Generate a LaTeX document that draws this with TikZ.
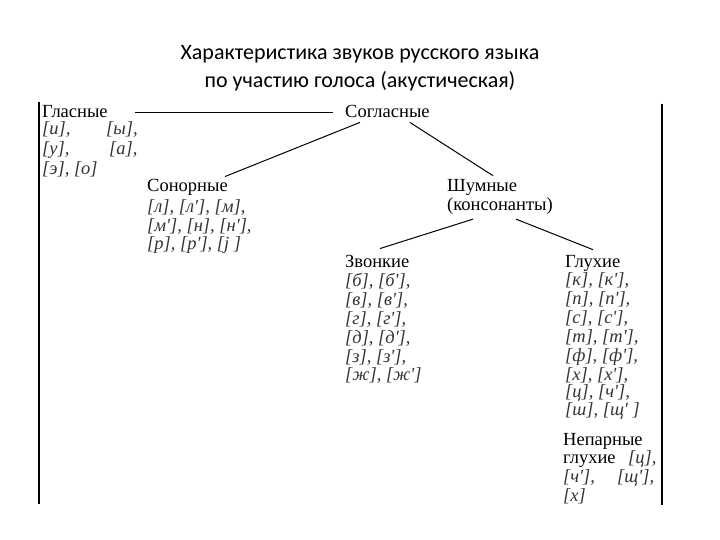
\documentclass[tikz,border=0pt]{standalone}
\usepackage{fontspec}
\setmainfont{Liberation Serif}
\newfontfamily\titlefont{Carlito}
\newcommand\ap{\textquotesingle}
\begin{document}
\begin{tikzpicture}[x=1pt,y=-1pt,
  hd/.style={inner sep=0pt,anchor=base west,font=\fontsize{18.5}{20}\selectfont},
  it/.style={inner sep=0pt,anchor=base west,font=\fontsize{18.5}{20}\selectfont\itshape,text=black!80},
  ttl/.style={inner sep=0pt,anchor=base,font=\titlefont\fontsize{22}{26}\selectfont},
  conn/.style={draw=black,line width=1pt},
  frame/.style={draw=black,line width=1.3pt}]
\useasboundingbox (0,0) rectangle (720,540);
% title
\node[ttl] (t1) at (360,60) {Характеристика звуков русского языка};
\node[ttl] (t2) at (360,88) {по участию голоса (акустическая)};
% frame lines
\coordinate (fl1) at (39,102); \coordinate (fl2) at (39,504);
\coordinate (fr1) at (662,104); \coordinate (fr2) at (662,505);
\draw[frame] (fl1) -- (fl2);
\draw[frame] (fr1) -- (fr2);
% Гласные
\node[hd] (glas) at (42,118) {Гласные};
\node[it] (g1) at (42,135) {[и],};
\node[it] (g2) at (106,135) {[ы],};
\node[it] (g3) at (42,155) {[у],};
\node[it] (g4) at (109,155) {[а],};
\node[it] (g5) at (42,175) {[э], [о]};
% Согласные
\node[hd] (sogl) at (345,118) {Согласные};
% Сонорные
\node[hd] (son) at (147,192) {Сонорные};
\node[it] (s1) at (147,212) {[л], [л\ap], [м],};
\node[it] (s2) at (147,231) {[м\ap], [н], [н\ap],};
\node[it] (s3) at (147,249) {[р], [р\ap], [j ]};
% Шумные
\node[hd] (shum) at (447,192) {Шумные};
\node[hd] (kons) at (447,211) {(консонанты)};
% Звонкие
\node[hd] (zv) at (345,267) {Звонкие};
\node[it] (z1) at (345,286) {[б], [б\ap],};
\node[it] (z2) at (345,305) {[в], [в\ap],};
\node[it] (z3) at (345,324) {[г], [г\ap],};
\node[it] (z4) at (345,343) {[д], [д\ap],};
\node[it] (z5) at (345,362) {[з], [з\ap],};
\node[it] (z6) at (345,380) {[ж], [ж\ap]};
% Глухие
\node[hd] (gl) at (565,267) {Глухие};
\node[it] (k1) at (565,285) {[к], [к\ap],};
\node[it] (k2) at (565,304) {[п], [п\ap],};
\node[it] (k3) at (565,323) {[с], [с\ap],};
\node[it] (k4) at (565,342) {[т], [т\ap],};
\node[it] (k5) at (565,361) {[ф], [ф\ap],};
\node[it] (k6) at (565,380) {[х], [х\ap],};
\node[it] (k7) at (565,397) {[ц], [ч\ap],};
\node[it] (k8) at (565,415) {[ш], [щ\ap\ ]};
% Непарные глухие
\node[hd] (np) at (563,445) {Непарные};
\node[hd] (np2) at (563,463) {глухие};
\node[it] (n1) at (628,463) {[ц],};
\node[it] (n2) at (563,482) {[ч\ap],};
\node[it] (n3) at (617,482) {[щ\ap],};
\node[it] (n4) at (563,501) {[х]};
% connectors
\coordinate (ha) at (135,113);
\draw[conn] (ha) -- ([xshift=-12pt]sogl.west |- ha);
\draw[conn] ([xshift=15pt,yshift=-4pt]sogl.south west) -- ([xshift=78pt,yshift=3pt]son.north west);
\draw[conn] ([xshift=-20pt,yshift=-4pt]sogl.south east) -- ([xshift=46pt,yshift=4pt]shum.north west);
\draw[conn] ([xshift=26pt,yshift=-4pt]kons.south west) -- ([xshift=35pt,yshift=6pt]zv.north west);
\draw[conn] ([xshift=69pt,yshift=-4pt]kons.south west) -- ([xshift=28pt,yshift=5pt]gl.north west);
\end{tikzpicture}
\end{document}
